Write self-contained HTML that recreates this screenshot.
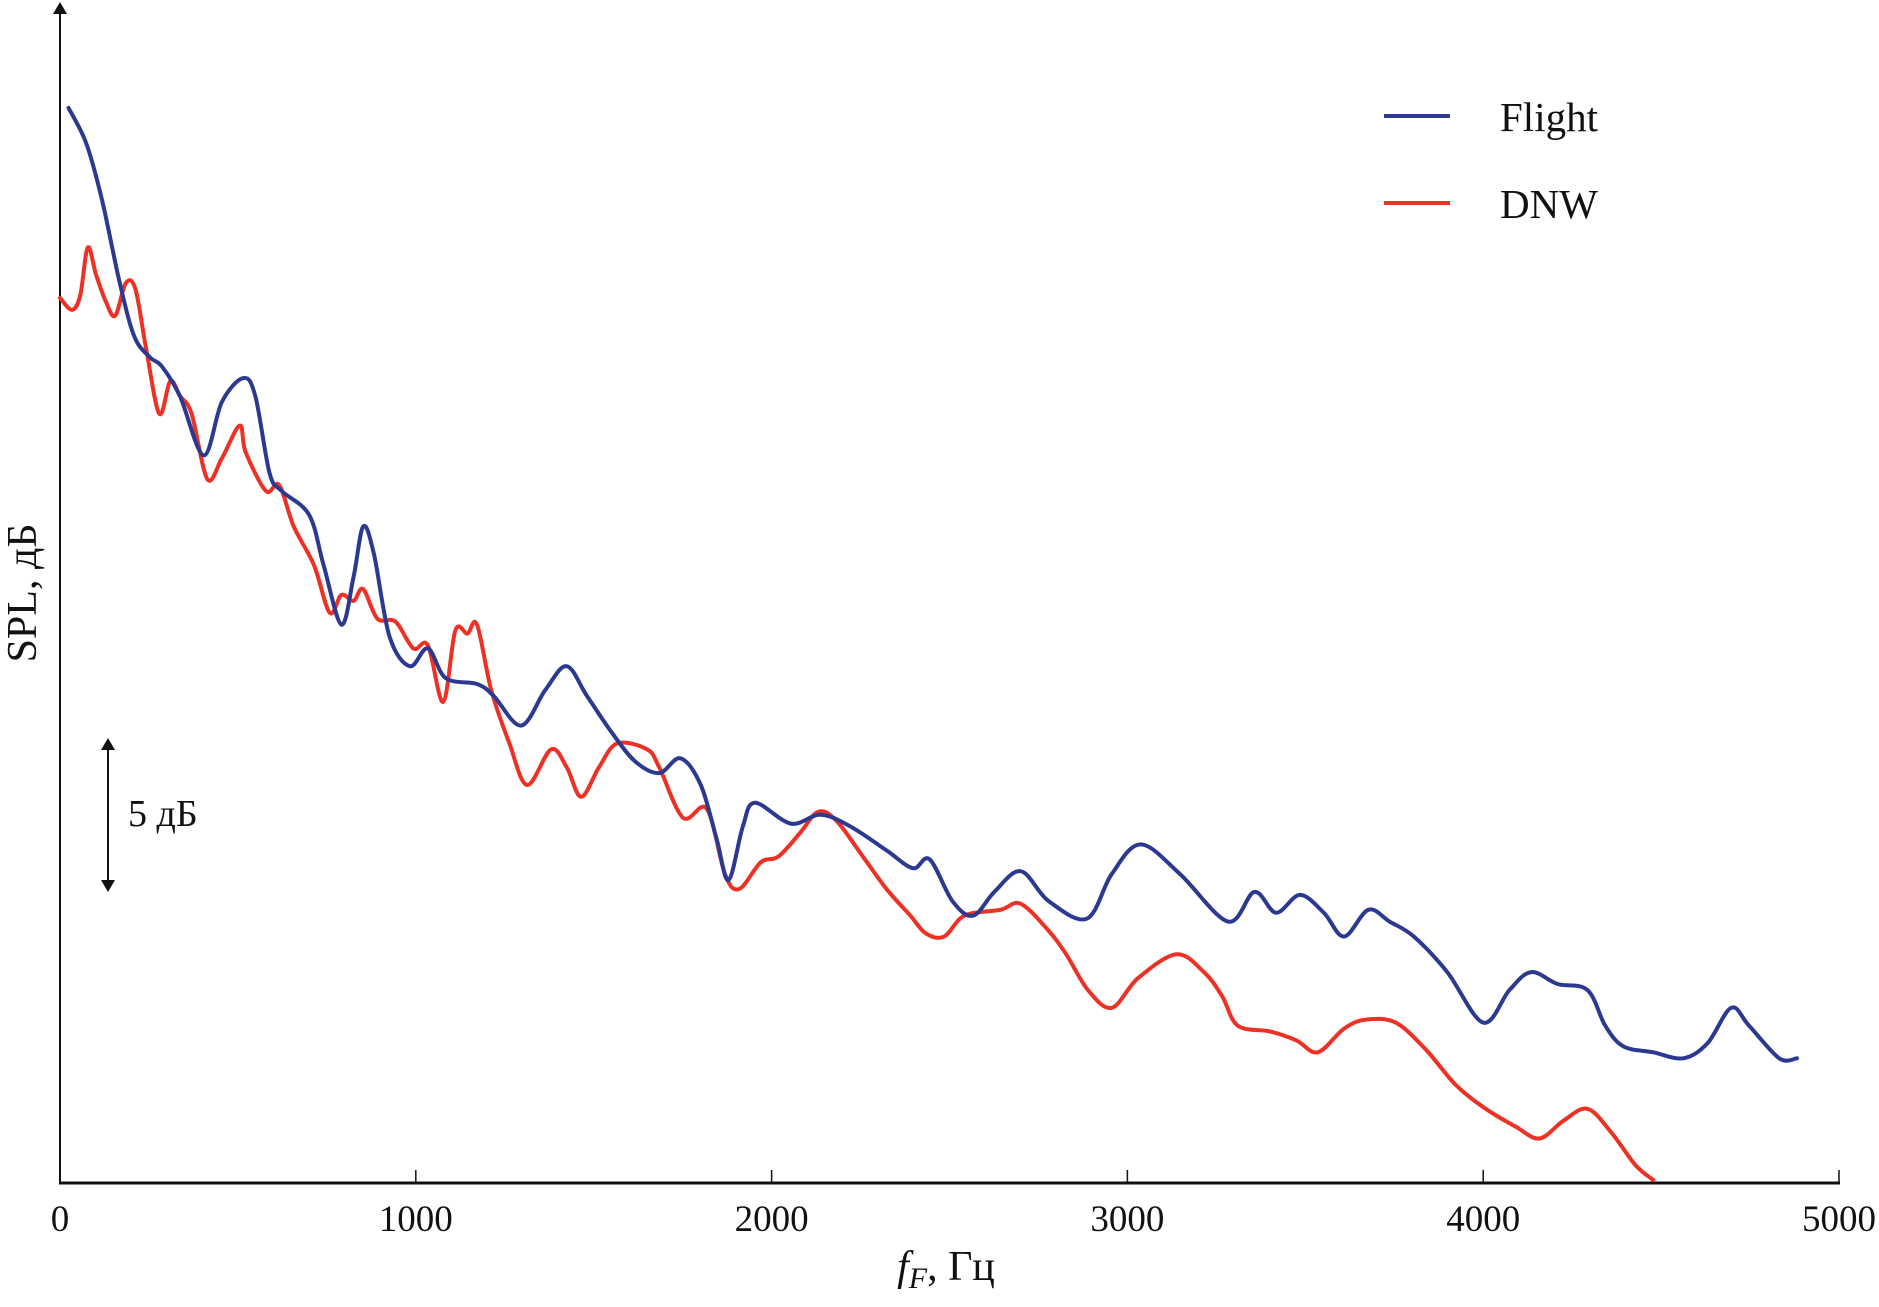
<!DOCTYPE html>
<html><head><meta charset="utf-8"><style>
body{margin:0;background:#fff}
svg text{font-family:"Liberation Serif",serif;fill:#111}
</style></head><body>
<svg id="chart" width="1879" height="1302" viewBox="0 0 1879 1302" xmlns="http://www.w3.org/2000/svg">
<defs><marker id="ah" markerWidth="12" markerHeight="14" refX="6" refY="7" orient="auto-start-reverse" markerUnits="userSpaceOnUse"><path d="M0,0 L12,7 L0,14 z" fill="#111"/></marker></defs>
<g id="axes"></g>
<g id="series"></g>
<g>
<line x1="1384" y1="116" x2="1450" y2="116" stroke="#2b3990" stroke-width="4"/>
<text x="1500" y="131" font-size="41">Flight</text>
<line x1="1384" y1="203" x2="1450" y2="203" stroke="#ee3124" stroke-width="4"/>
<text x="1500" y="218" font-size="41">DNW</text>
</g>
<g>
<line x1="108" y1="744" x2="108" y2="886" stroke="#111" stroke-width="2" marker-start="url(#ah)" marker-end="url(#ah)"/>
<text x="128" y="826" font-size="38">5 дБ</text>
</g>
<text transform="translate(36,593) rotate(-90)" text-anchor="middle" font-size="42">SPL, дБ</text>
<text x="946" y="1280" text-anchor="middle" font-size="42"><tspan font-style="italic">f</tspan><tspan font-style="italic" font-size="30" dy="8">F</tspan><tspan dy="-8">, Гц</tspan></text>
</svg>
<script>
const xTicks=[0,1000,2000,3000,4000,5000];
const xTickLabels=["0","1000","2000","3000","4000","5000"];
const flightF=[24,74,118,168,209,253,286,337,404,455,515,549,589,623,700,741,791,825,852,882,926,983,1034,1084,1172,1219,1296,1364,1424,1481,1549,1616,1684,1744,1801,1845,1879,1919,1953,2054,2138,2222,2323,2397,2444,2508,2566,2626,2700,2778,2886,2956,3037,3148,3283,3357,3418,3485,3552,3609,3677,3737,3805,3899,4000,4074,4135,4209,4293,4343,4394,4478,4562,4630,4697,4747,4832,4882];
const flightDb=[36.2,35.0,33.1,30.3,28.5,27.8,27.5,26.5,24.5,26.3,27.1,26.5,23.9,23.3,22.5,20.8,18.8,20.4,22.1,21.2,18.4,17.4,18.0,17.0,16.8,16.4,15.4,16.6,17.4,16.4,15.2,14.2,13.8,14.3,13.4,11.6,10.2,12.0,12.8,12.1,12.4,12.0,11.2,10.6,10.9,9.5,9.0,9.8,10.5,9.5,8.9,10.4,11.4,10.4,8.8,9.8,9.1,9.7,9.1,8.3,9.2,8.8,8.3,7.1,5.4,6.5,7.1,6.7,6.5,5.3,4.6,4.4,4.2,4.7,5.9,5.3,4.2,4.2];
const dnwF=[0,34,57,78,101,128,155,185,212,242,279,310,337,370,414,455,505,522,579,616,657,714,758,791,825,852,892,943,993,1034,1077,1111,1145,1172,1212,1263,1313,1380,1424,1465,1515,1566,1650,1684,1751,1818,1869,1909,1970,2020,2081,2131,2182,2256,2323,2390,2434,2485,2542,2643,2700,2778,2828,2889,2956,3030,3138,3215,3266,3310,3401,3475,3535,3609,3670,3754,3838,3923,4007,4091,4158,4226,4293,4360,4428,4478];
const dnwDb=[29.8,29.4,29.9,31.5,30.6,29.7,29.2,30.3,30.1,28.1,25.9,27.0,26.5,25.9,23.7,24.4,25.5,24.6,23.3,23.5,22.1,20.8,19.2,19.8,19.6,20.0,19.0,18.9,18.0,18.1,16.2,18.6,18.5,18.8,16.6,14.8,13.4,14.6,14.0,13.0,14.0,14.8,14.6,14.0,12.3,12.6,10.4,9.9,10.8,11.0,11.8,12.5,12.2,11.0,9.9,9.0,8.4,8.3,9.0,9.2,9.4,8.5,7.7,6.5,5.9,6.9,7.7,7.1,6.3,5.3,5.1,4.8,4.4,5.2,5.5,5.4,4.5,3.3,2.5,1.9,1.5,2.1,2.5,1.7,0.6,0.1];
const NS="http://www.w3.org/2000/svg";
const X0=60,X1=1839,Y0=1183,PXDB=29.7;
function xs(f){return X0+(f-0)/5000*(X1-X0);}
function ys(d){return Y0-d*PXDB;}
function mk(t,a,p){const e=document.createElementNS(NS,t);for(const k in a)e.setAttribute(k,a[k]);p.appendChild(e);return e;}
const ax=document.getElementById('axes');
let yl=mk('line',{x1:X0,y1:Y0,x2:X0,y2:8,stroke:'#111','stroke-width':2,'marker-end':'url(#ah)'},ax);


let xl=mk('line',{x1:X0-1,y1:Y0,x2:X1+1,y2:Y0,stroke:'#111','stroke-width':3},ax);


xTicks.forEach((t,i)=>{
 const tk=mk('line',{x1:xs(t),y1:Y0,x2:xs(t),y2:Y0-13,stroke:'#111','stroke-width':1.5},ax);
 
 
 const tx=mk('text',{x:xs(t),y:1231,'text-anchor':'middle','font-size':37},ax);
 
 
 tx.textContent=xTickLabels[i];
});
const sg=document.getElementById('series');
function line(F,D,c,name){
 const P=F.map((f,i)=>[xs(f),ys(D[i])]);
 let d='M'+P[0][0].toFixed(1)+','+P[0][1].toFixed(1);
 for(let i=0;i<P.length-1;i++){
  const p0=P[Math.max(0,i-1)],p1=P[i],p2=P[i+1],p3=P[Math.min(P.length-1,i+2)];
  const c1=[p1[0]+(p2[0]-p0[0])/6,p1[1]+(p2[1]-p0[1])/6];
  const c2=[p2[0]-(p3[0]-p1[0])/6,p2[1]-(p3[1]-p1[1])/6];
  d+=' C'+c1[0].toFixed(1)+','+c1[1].toFixed(1)+' '+c2[0].toFixed(1)+','+c2[1].toFixed(1)+' '+p2[0].toFixed(1)+','+p2[1].toFixed(1);
 }
 const p=mk('path',{d:d,fill:'none',stroke:c,'stroke-width':4,'stroke-linejoin':'round','stroke-linecap':'round'},sg);
 
 
}
line(dnwF,dnwDb,'#ee3124','dnw-line');
line(flightF,flightDb,'#2b3990','flight-line');
</script>
</body></html>
